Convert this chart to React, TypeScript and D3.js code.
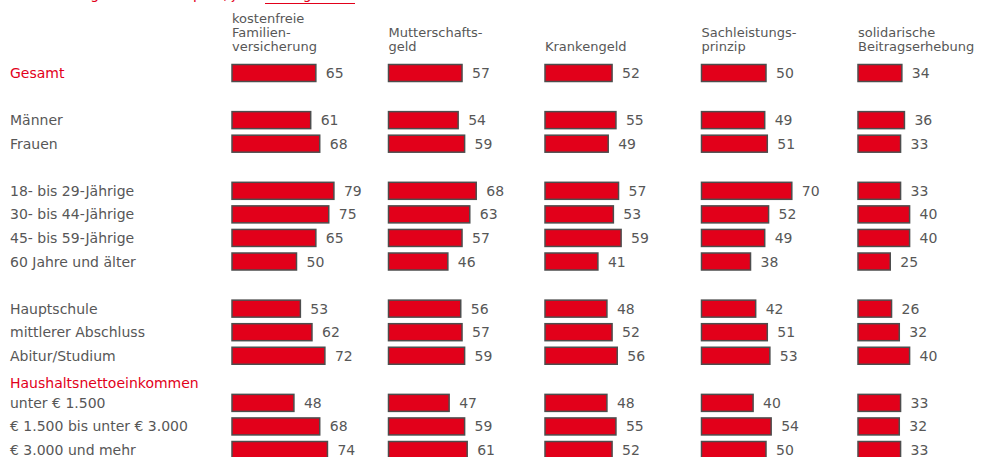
import React from "react";
import * as d3 from "d3";

// column headers (one entry per line)
const columns = [
  ["kostenfreie", "Familien-", "versicherung"],
  ["Mutterschafts-", "geld"],
  ["Krankengeld"],
  ["Sachleistungs-", "prinzip"],
  ["solidarische", "Beitragserhebung"],
];

// row groups; a group may carry a red heading line
const groups = [
  { title: null, rows: ["Gesamt"] },
  { title: null, rows: ["Männer", "Frauen"] },
  { title: null, rows: ["18- bis 29-Jährige", "30- bis 44-Jährige", "45- bis 59-Jährige", "60 Jahre und älter"] },
  { title: null, rows: ["Hauptschule", "mittlerer Abschluss", "Abitur/Studium"] },
  { title: "Haushaltsnettoeinkommen", rows: ["unter € 1.500", "€ 1.500 bis unter € 3.000", "€ 3.000 und mehr"] },
];

const familienversicherung = [65, 61, 68, 79, 75, 65, 50, 53, 62, 72, 48, 68, 74];
const mutterschaftsgeld = [57, 54, 59, 68, 63, 57, 46, 56, 57, 59, 47, 59, 61];
const krankengeld = [52, 55, 49, 57, 53, 59, 41, 48, 52, 56, 48, 55, 52];
const sachleistung = [50, 49, 51, 70, 52, 49, 38, 42, 51, 53, 40, 54, 50];
const solidarisch = [34, 36, 33, 33, 40, 40, 25, 26, 32, 40, 33, 32, 33];

const series = [familienversicherung, mutterschaftsgeld, krankengeld, sachleistung, solidarisch];

const W = 989;
const H = 457;
const RED = "#e2001a";
const GREY = "#575757";
const FONT = "'DejaVu Sans', Verdana, sans-serif";
const FS = 14;

export default function App() {
  // lay rows out on slots, one blank slot between groups (heading takes the blank)
  const slots: { label: string; slot: number; idx: number }[] = [];
  const titles: { label: string; slot: number }[] = [];
  let s = 0;
  let idx = 0;
  groups.forEach((g, gi) => {
    if (gi > 0) s += 1;
    if (g.title) titles.push({ label: g.title, slot: s - 1 });
    g.rows.forEach((r) => {
      slots.push({ label: r, slot: s, idx: idx++ });
      s += 1;
    });
  });
  const lastSlot = s - 1;

  const y = d3.scaleLinear().domain([0, lastSlot]).range([73, 450]);
  const colX = d3.scaleLinear().domain([0, columns.length - 1]).range([232, 858]);
  const w = d3.scaleLinear().domain([0, 100]).range([0, 129]);
  const barH = 17;

  return (
    <svg width={W} height={H} style={{ position: "absolute", left: 0, top: 0 }} fontFamily={FONT}>
      <rect width={W} height={H} fill="#fff" />
      {/* title line, mostly above the page top as in the source */}
      <text x={10} y={-1} fontSize={FS} fill={RED}>
        Zustimmung zu den Prinzipien, jeweils Angaben in %
      </text>
      <line x1={265} x2={355} y1={3.5} y2={3.5} stroke={RED} strokeWidth={1} />

      {columns.map((lines, ci) => (
        <text key={ci} x={colX(ci)} fontSize={13} fill={GREY}>
          {lines.map((l, li) => (
            <tspan key={li} x={colX(ci)} y={51 - (lines.length - 1 - li) * 13.8}>
              {l}
            </tspan>
          ))}
        </text>
      ))}

      {titles.map((t) => (
        <text key={t.label} x={10} y={y(t.slot) + 9} fontSize={FS} fill={RED}>
          {t.label}
        </text>
      ))}

      {slots.map((r) => (
        <g key={r.label}>
          <text x={10} y={y(r.slot) + 5} fontSize={FS} fill={r.idx === 0 ? RED : GREY}>
            {r.label}
          </text>
          {series.map((vals, ci) => {
            const v = vals[r.idx];
            const x0 = colX(ci);
            return (
              <g key={ci}>
                <rect
                  x={x0}
                  y={y(r.slot) - barH / 2}
                  width={w(v)}
                  height={barH}
                  fill={RED}
                  stroke="#4d4d4d"
                  strokeWidth={1.5}
                />
                <text x={x0 + w(v) + 10} y={y(r.slot) + 5} fontSize={FS} fill={GREY}>
                  {v}
                </text>
              </g>
            );
          })}
        </g>
      ))}
    </svg>
  );
}
